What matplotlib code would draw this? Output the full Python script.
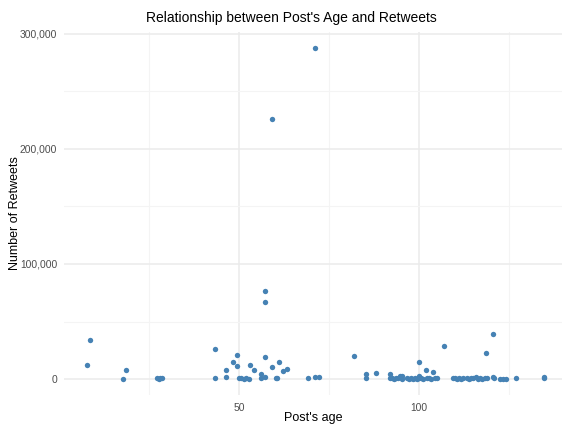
import numpy as np
import matplotlib.pyplot as plt
from matplotlib.ticker import FuncFormatter, MultipleLocator

# post age (days) and retweet counts
post_age = [
    7.7, 8.6, 17.7, 18.5, 27.2, 27.6, 28.1, 28.6,
    43.3, 43.3, 46.3, 46.4, 48.3, 49.4, 49.4, 50.0, 50.6, 51.4, 52.0, 52.8,
    53.1, 54.2, 56.1, 56.1, 57.2, 57.2, 57.2, 57.2, 59.2, 59.2, 60.2, 60.4,
    61.1, 62.2, 63.3, 69.2, 71.1, 71.1, 72.2,
    81.9, 85.2, 85.2, 88.0,
    91.9, 91.9, 92.4, 93.0, 93.5, 94.0, 94.6, 95.3, 95.3,
    96.7, 97.2, 97.8, 98.3, 98.9, 99.4, 100.0, 100.0, 100.0, 100.6, 101.1,
    101.9, 102.2, 102.8, 103.3, 103.9, 104.4, 105.0, 106.9,
    109.4, 110.0, 110.6, 111.1, 111.7, 112.2,
    113.3, 113.9, 114.4, 115.0, 115.7, 116.4, 117.0, 117.6, 118.2, 118.7, 118.9,
    120.6, 120.6, 120.8, 122.5, 123.3, 124.1, 126.9, 134.7, 134.7,
]
retweets = [
    12400, 33700, 300, 7600, 500, 300, 600, 800,
    26300, 900, 7800, 1700, 14800, 21100, 11300, 1000, 500, 200, 600, 300,
    12400, 8100, 4300, 900, 19100, 1700, 76500, 67000, 10400, 226000, 900, 600,
    15000, 7000, 8700, 800, 1700, 288000, 2000,
    20300, 4300, 800, 5500,
    4300, 800, 500, 300, 1200, 600, 2800, 3000, 400,
    600, 300, 1000, 400, 700, 200, 14500, 2900, 600, 1300, 400,
    7800, 500, 1100, 300, 6100, 800, 500, 28400,
    800, 500, 300, 600, 400, 700,
    600, 300, 800, 500, 2000, 400, 600, 300, 800, 22300, 500,
    39100, 2000, 600, 100, 300, 200, 800, 800, 1500,
]

plt.rcParams['font.family'] = ['Liberation Sans', 'DejaVu Sans']

fig = plt.figure(figsize=(5.64, 4.30), dpi=100)
ax = fig.add_axes([63.5 / 564, 35 / 430, 498.5 / 564, 363 / 430])

ax.scatter(post_age, retweets, s=15, color='#4682B4', linewidths=0, zorder=3)

ax.set_xlim(1.2, 139.7)
ax.set_ylim(-13900, 301700)

ax.xaxis.set_major_locator(MultipleLocator(50))
ax.xaxis.set_minor_locator(MultipleLocator(25))
ax.yaxis.set_major_locator(MultipleLocator(100000))
ax.yaxis.set_minor_locator(MultipleLocator(50000))
ax.yaxis.set_major_formatter(FuncFormatter(lambda v, p: '{:,.0f}'.format(v)))

ax.grid(which='major', color='#EBEBEB', linewidth=1.1, zorder=0)
ax.grid(which='minor', color='#F4F4F4', linewidth=0.8, zorder=0)
for s in ax.spines.values():
    s.set_visible(False)
ax.tick_params(which='both', length=0, labelsize=7.4, labelcolor='#4D4D4D')
ax.tick_params(axis='x', pad=6)
ax.tick_params(axis='y', pad=4.5)

ax.set_xlabel("Post's age", fontsize=9)
ax.set_ylabel('Number of Retweets', fontsize=9)
ax.xaxis.set_label_coords(0.5, -23 / 363)
ax.xaxis.label.set_va('center')
ax.yaxis.set_label_coords(-48.5 / 498.5, 0.5)
ax.yaxis.label.set_va('center')
fig.text(291 / 564, 1 - 18 / 430, "Relationship between Post's Age and Retweets",
         fontsize=10, ha='center', va='center')

fig.savefig('out.png', dpi=100)
